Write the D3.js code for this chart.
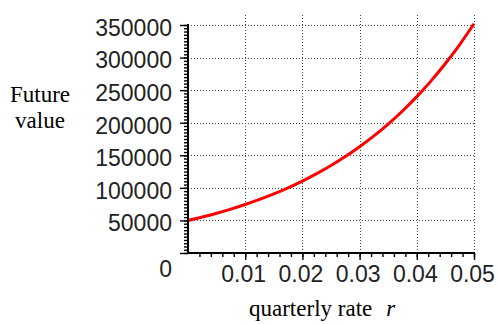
<!DOCTYPE html>
<html>
<head>
<meta charset="utf-8">
<script src="https://cdn.jsdelivr.net/npm/d3@7"></script>
<style>
  html, body { margin: 0; padding: 0; background: #ffffff; }
  #chart { width: 498px; height: 324px; }
</style>
</head>
<body>
<div id="chart"></div>
<script>
// Data
const rates = [0, 0.0025, 0.005, 0.0075, 0.01, 0.0125, 0.015, 0.0175, 0.02, 0.0225,
               0.025, 0.0275, 0.03, 0.0325, 0.035, 0.0375, 0.04, 0.0425, 0.045, 0.0475, 0.05];
const futureValues = [50000, 55250, 61040, 67420, 74440, 82180, 90700, 100080, 110400, 121760,
                      134250, 148000, 163100, 179700, 197960, 218020, 240050, 264240, 290820, 320000, 352000];
const xTickValues = [0.01, 0.02, 0.03, 0.04, 0.05];
const yTickValues = [0, 50000, 100000, 150000, 200000, 250000, 300000, 350000];

const container = document.getElementById('chart');
const svg = d3.select(container)
    .append('svg')
    .attr('width', 498)
    .attr('height', 324);

// Scales (pixel ranges match the plot box)
const x = d3.scaleLinear().domain([0, 0.05]).range([188, 474]);
const y = d3.scaleLinear().domain([0, 350000]).range([253, 25]);
const gridTop = 13;

// Grid lines
const grid = svg.append('g').attr('class', 'grid-lines');
grid.selectAll('line.h')
    .data(yTickValues.filter(d => d > 0))
    .enter()
    .append('line')
    .attr('x1', x(0))
    .attr('x2', x(0.05) + 2)
    .attr('y1', d => Math.round(y(d)) + 0.5)
    .attr('y2', d => Math.round(y(d)) + 0.5)
    .attr('stroke', '#444')
    .attr('stroke-width', 1)
    .attr('stroke-dasharray', '1,2');
grid.selectAll('line.v')
    .data(xTickValues)
    .enter()
    .append('line')
    .attr('x1', d => Math.round(x(d)) + 0.5)
    .attr('x2', d => Math.round(x(d)) + 0.5)
    .attr('y1', y(0))
    .attr('y2', gridTop)
    .attr('stroke', '#444')
    .attr('stroke-width', 1)
    .attr('stroke-dasharray', '1,2');

// Curve
const line = d3.line()
    .x((d, i) => x(rates[i]))
    .y(d => y(d))
    .curve(d3.curveMonotoneX);

svg.append('path')
    .datum(futureValues)
    .attr('d', line)
    .attr('fill', 'none')
    .attr('stroke', '#ff0000')
    .attr('stroke-width', 3)
    .attr('stroke-linejoin', 'round');

// Y axis: minor ticks every 5000
const yAxis = svg.append('g')
    .attr('transform', `translate(${x(0)},0)`);
yAxis.call(d3.axisLeft(y)
    .tickValues(d3.range(0, 350001, 5000))
    .tickSize(4)
    .tickFormat(''));
yAxis.call(g => g.select('.domain').remove());
yAxis.selectAll('.tick line').attr('stroke', '#000').attr('stroke-width', 1.4);

const yMajor = svg.append('g')
    .attr('transform', `translate(${x(0)},0)`)
    .call(d3.axisLeft(y)
        .tickValues(yTickValues)
        .tickSize(8)
        .tickPadding(8)
        .tickFormat(d => d));
yMajor.select('.domain').remove();
yMajor.selectAll('.tick line').attr('stroke', '#000').attr('stroke-width', 1.4);
yMajor.selectAll('.tick text')
    .style('font-family', '"Liberation Sans", Arial, sans-serif')
    .style('font-size', '23px')
    .style('fill', '#222')
    .attr('dy', d => d === 0 ? '1.0em' : '0.45em');

// X axis: minor ticks every 0.002
const xAxis = svg.append('g')
    .attr('transform', `translate(0,${y(0)})`);
xAxis.call(d3.axisBottom(x)
    .tickValues(d3.range(1, 26).map(i => i * 0.002))
    .tickSize(4)
    .tickFormat(''));
xAxis.select('.domain').remove();
xAxis.selectAll('.tick line').attr('stroke', '#000').attr('stroke-width', 1.4);

const xMajor = svg.append('g')
    .attr('transform', `translate(0,${y(0)})`)
    .call(d3.axisBottom(x)
        .tickValues(xTickValues)
        .tickSize(7)
        .tickPadding(6)
        .tickFormat(d3.format('.2f')));
xMajor.select('.domain').remove();
xMajor.selectAll('.tick line').attr('stroke', '#000').attr('stroke-width', 1.4);
xMajor.selectAll('.tick text')
    .style('font-family', '"Liberation Sans", Arial, sans-serif')
    .style('font-size', '23px')
    .style('fill', '#222')
    .attr('dx', -2);

// Axis lines
svg.append('line')
    .attr('x1', x(0)).attr('x2', x(0))
    .attr('y1', y(0) + 1).attr('y2', y(350000) - 1)
    .attr('stroke', '#000').attr('stroke-width', 2);
svg.append('line')
    .attr('x1', x(0) - 1).attr('x2', x(0.05) + 1)
    .attr('y1', y(0)).attr('y2', y(0))
    .attr('stroke', '#000').attr('stroke-width', 2);

// Axis titles
const yLabel = svg.append('text')
    .attr('x', 40)
    .attr('text-anchor', 'middle')
    .style('font-family', '"Liberation Serif", "Times New Roman", serif')
    .style('font-size', '23px')
    .style('fill', '#000');
yLabel.append('tspan').attr('x', 40).attr('y', 102).text('Future');
yLabel.append('tspan').attr('x', 40).attr('y', 128).text('value');

const xLabel = svg.append('text')
    .attr('x', 249)
    .attr('y', 316)
    .style('font-family', '"Liberation Serif", "Times New Roman", serif')
    .style('font-size', '23px')
    .style('fill', '#000');
xLabel.append('tspan').text('quarterly rate');
xLabel.append('tspan').attr('dx', 14).style('font-style', 'italic').text('r');
</script>
</body>
</html>
